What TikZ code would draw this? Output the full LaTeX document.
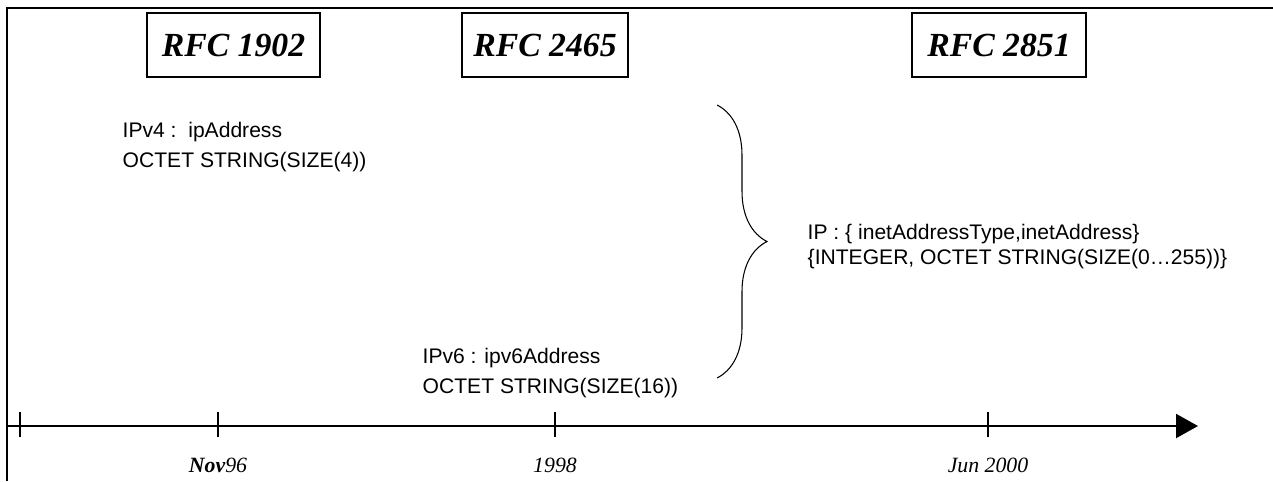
\documentclass[tikz,border=0pt]{standalone}
\usepackage{fontspec}
\setmainfont{Liberation Serif}
\setsansfont{Liberation Sans}
\usetikzlibrary{arrows.meta,decorations.pathreplacing}

\begin{document}
\begin{tikzpicture}[
    rfcbox/.style={draw, line width=0.45pt, inner sep=0pt, minimum height=0.64cm,
      font=\fontsize{9.6}{10}\selectfont\bfseries\itshape},
    asntext/.style={anchor=west, align=left, inner sep=0pt,
      font=\sffamily\fontsize{6}{8.5}\selectfont},
    datelabel/.style={anchor=base, inner sep=0pt, font=\fontsize{6.2}{7}\selectfont\itshape}
  ]
    \useasboundingbox (0,0) rectangle (12.73,4.81);

    % Frame
    \draw[line width=0.6pt] (0.07,0) -- (0.07,4.73) -- (12.73,4.73);

    % RFC boxes
    \node[rfcbox, minimum width=1.73cm] (rfc1902) at (2.335,4.36) {RFC 1902};
    \node[rfcbox, minimum width=1.66cm] (rfc2465) at (5.45,4.36) {RFC 2465};
    \node[rfcbox, minimum width=1.74cm] (rfc2851) at (9.99,4.36) {RFC 2851};

    % Address types
    \node[asntext] (ipvfour) at (1.22,3.34) {IPv4 :\ \ ipAddress\\OCTET STRING(SIZE(4))};
    \node[asntext] (ipvsix) at (4.22,1.08) {IPv6 : ipv6Address\\OCTET STRING(SIZE(16))};
    \node[asntext, font=\sffamily\fontsize{6}{7.1}\selectfont] (inetip) at (8.07,2.34)
      {IP : \{ inetAddressType,inetAddress\}\\\{INTEGER, OCTET STRING(SIZE(0\ldots255))\}};

    % Brace
    \coordinate (braceTop) at (7.17,3.76);
    \coordinate (braceBot) at (7.17,1.03);
    \draw[line width=0.3pt, decorate, decoration={brace, amplitude=0.5cm}] (braceTop) -- (braceBot);

    % Time axis
    \coordinate (axisStart) at (0.08,0.55);
    \coordinate (axisEnd) at (11.98,0.55);
    \draw[line width=0.6pt, -{Triangle[length=0.22cm, width=0.24cm]}] (axisStart) -- (axisEnd);
    \foreach \x/\name in {0.20/tstart, 2.18/tnov, 5.55/tninety, 9.88/tjun} {
        \coordinate (\name) at (\x,0.55);
        \draw[line width=0.35pt] ([yshift=-0.11cm]\name) -- ([yshift=0.14cm]\name);
    }

    % Dates
    \node[datelabel] (nov96) at ([yshift=-0.46cm]tnov) {\textbf{Nov}96};
    \node[datelabel] (y1998) at ([yshift=-0.46cm]tninety) {1998};
    \node[datelabel] (jun2000) at ([yshift=-0.46cm]tjun) {Jun 2000};
\end{tikzpicture}
\end{document}
